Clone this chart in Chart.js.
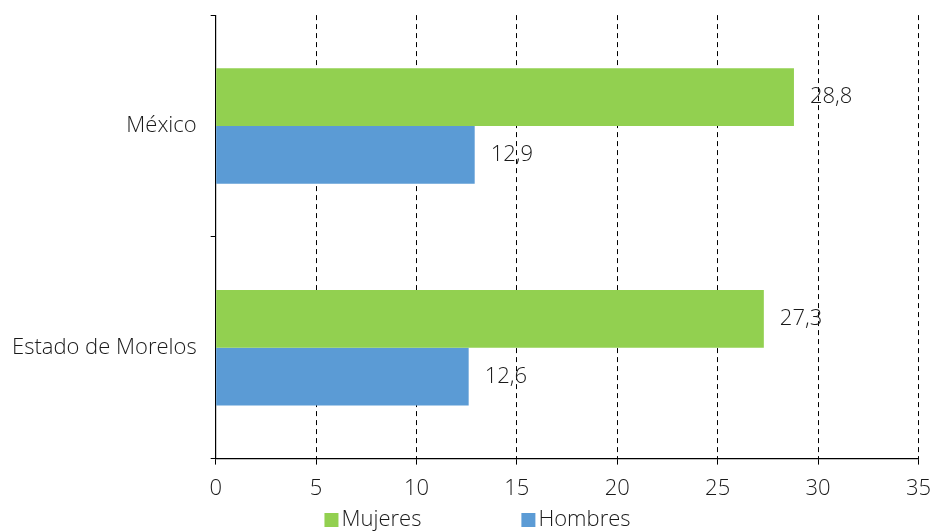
<!DOCTYPE html>
<html>
<head>
<meta charset="utf-8">
<script src="https://cdn.jsdelivr.net/npm/chart.js@4"></script>
<style>
  html, body { margin: 0; padding: 0; background: #fff; }
  #wrap { width: 931px; height: 531px; }
</style>
</head>
<body>
<div id="wrap"><canvas id="chart" width="931" height="531"></canvas></div>
<script>
// datos
const categorias = ['México', 'Estado de Morelos'];
const mujeres = [28.8, 27.3];
const hombres = [12.9, 12.6];
const ticksX = [0, 5, 10, 15, 20, 25, 30, 35];

const fuente = "'Open Sans', sans-serif";
const colorTexto = '#1a1a1a';

// etiquetas de valor a la derecha de las barras
const etiquetas = {
    id: 'etiquetas',
    afterDatasetsDraw(chart) {
        const ctx = chart.ctx;
        ctx.save();
        ctx.font = '300 22px ' + fuente;
        ctx.fillStyle = colorTexto;
        ctx.textAlign = 'left';
        ctx.textBaseline = 'middle';
        chart.data.datasets.forEach((ds, i) => {
            chart.getDatasetMeta(i).data.forEach((bar, j) => {
                const txt = ds.data[j].toFixed(1).replace('.', ',');
                ctx.fillText(txt, bar.x + 16, bar.y);
            });
        });
        ctx.restore();
    }
};

// leyenda abajo, dibujada a mano para controlar el espacio
const leyenda = {
    id: 'leyenda',
    afterDraw(chart) {
        const ctx = chart.ctx;
        const ds = chart.data.datasets;
        ctx.save();
        ctx.font = '300 22px ' + fuente;
        ctx.textBaseline = 'middle';
        ctx.textAlign = 'left';
        const caja = 14, sep = 3, hueco = 100;
        const anchos = ds.map(d => caja + sep + ctx.measureText(d.label).width);
        const total = anchos.reduce((a, b) => a + b, 0) + hueco * (ds.length - 1);
        let x = chart.width / 2 + 12 - total / 2;
        const y = chart.height - 11;
        ds.forEach((d, i) => {
            ctx.fillStyle = d.backgroundColor;
            ctx.fillRect(x, y - caja / 2, caja, caja);
            ctx.fillStyle = colorTexto;
            ctx.fillText(d.label, x + caja + sep, y);
            x += anchos[i] + hueco;
        });
        ctx.restore();
    }
};

const ctx = document.getElementById('chart');

new Chart(ctx, {
    type: 'bar',
    data: {
        labels: categorias,
        datasets: [
            {
                label: 'Mujeres',
                data: mujeres,
                backgroundColor: '#92D050',
                categoryPercentage: 0.52,
                barPercentage: 1
            },
            {
                label: 'Hombres',
                data: hombres,
                backgroundColor: '#5B9BD5',
                categoryPercentage: 0.52,
                barPercentage: 1
            }
        ]
    },
    options: {
        indexAxis: 'y',
        responsive: false,
        animation: false,
        layout: {
            padding: { top: 9, right: 0, left: -2, bottom: 18 }
        },
        plugins: {
            legend: { display: false },
            tooltip: { enabled: false }
        },
        scales: {
            x: {
                min: 0,
                max: 35,
                afterBuildTicks: (axis) => {
                    axis.ticks = ticksX.map(v => ({ value: v }));
                },
                border: { display: true, color: '#000', width: 1.2, dash: [5, 4] },
                grid: {
                    display: true,
                    color: '#000',
                    lineWidth: 1,
                    drawTicks: true,
                    tickLength: 6,
                    tickColor: '#000',
                    tickBorderDash: []
                },
                ticks: {
                    color: colorTexto,
                    padding: 0,
                    font: { family: fuente, size: 22, weight: '300', lineHeight: 2.2 }
                }
            },
            y: {
                border: { display: true, color: '#000', width: 1.2 },
                grid: {
                    display: true,
                    offset: true,
                    drawOnChartArea: false,
                    drawTicks: true,
                    tickLength: 5,
                    tickColor: '#000'
                },
                ticks: {
                    color: colorTexto,
                    padding: 14,
                    font: { family: fuente, size: 22, weight: '300', lineHeight: 0.1 }
                }
            }
        }
    },
    plugins: [etiquetas, leyenda]
});
</script>
</body>
</html>
